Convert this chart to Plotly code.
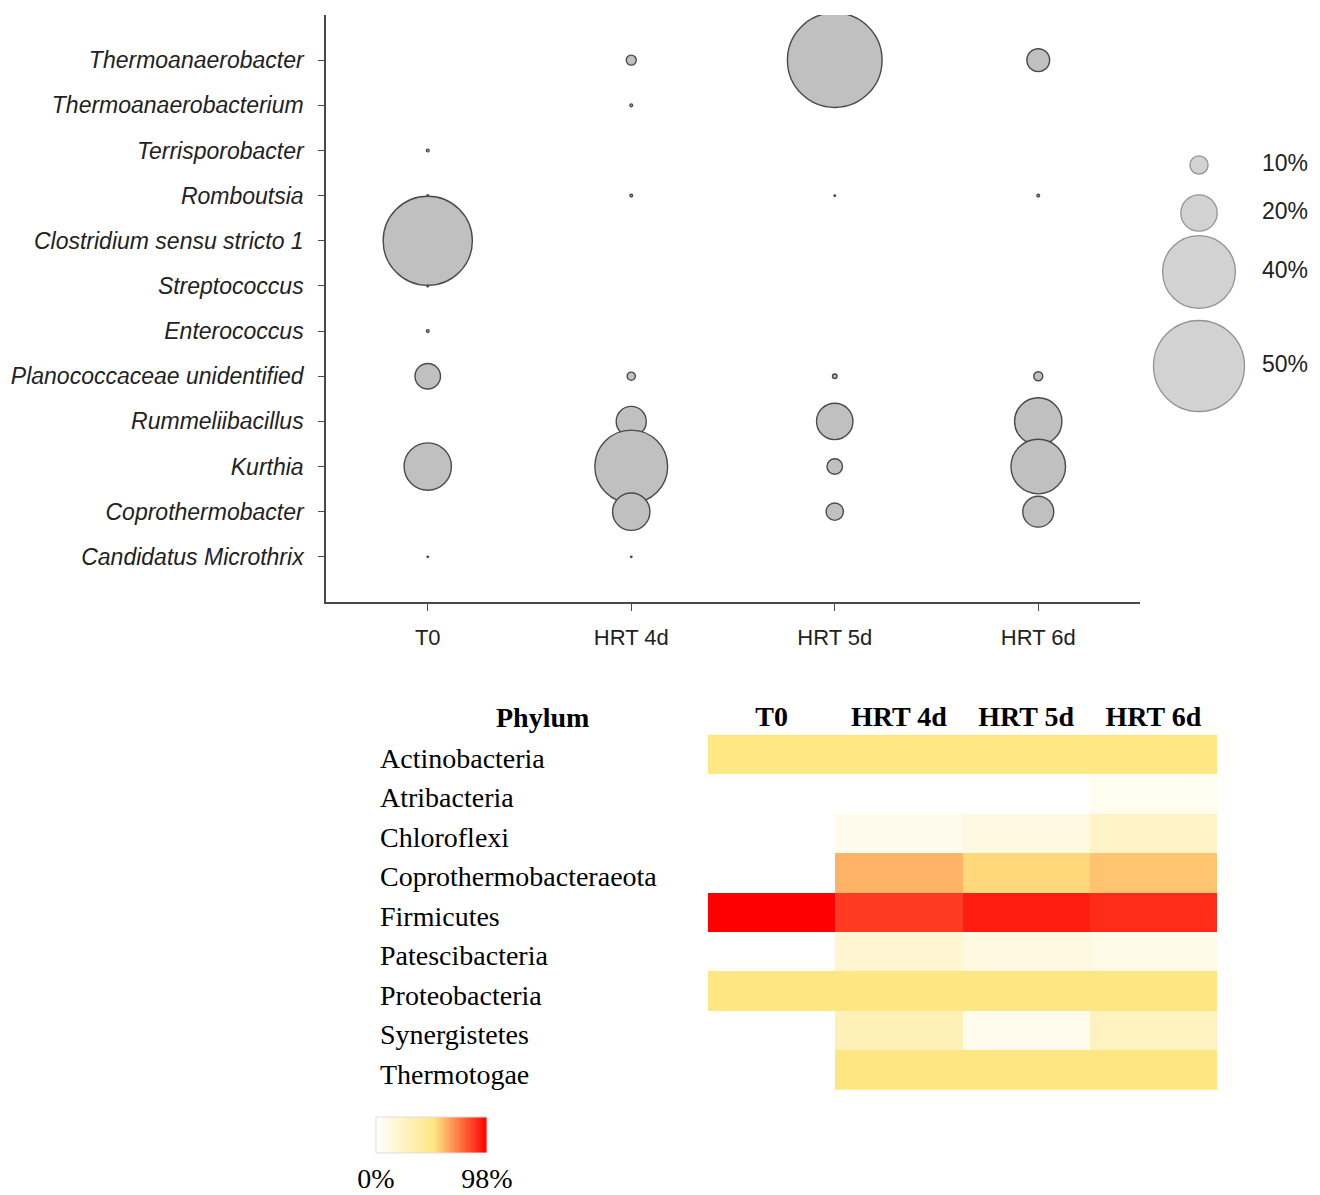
import plotly.graph_objects as go

# ---------------- Bubble chart data (relative abundance, %) ----------------
samples = ["T0", "HRT 4d", "HRT 5d", "HRT 6d"]
genera = [
    "Thermoanaerobacter",
    "Thermoanaerobacterium",
    "Terrisporobacter",
    "Romboutsia",
    "Clostridium sensu stricto 1",
    "Streptococcus",
    "Enterococcus",
    "Planococcaceae unidentified",
    "Rummeliibacillus",
    "Kurthia",
    "Coprothermobacter",
    "Candidatus Microthrix",
]
ab_T0 = [None, None, 1.5, 1.0, 49, 1.0, 1.5, 14, None, 26, None, 0.8]
ab_HRT4 = [5.5, 1.5, None, 1.5, None, None, None, 4.5, 16.5, 40, 20.5, 0.8]
ab_HRT5 = [52, None, None, 0.8, None, None, None, 2.5, 20, 8.5, 9.5, None]
ab_HRT6 = [12.5, None, None, 1.5, None, None, None, 5, 26, 30, 17, None]
legend_levels = [10, 20, 40, 50]
legend_labels = ["10%", "20%", "40%", "50%"]

# ---------------- Heatmap data (phylum relative abundance, %) ----------------
phyla = [
    "Actinobacteria",
    "Atribacteria",
    "Chloroflexi",
    "Coprothermobacteraeota",
    "Firmicutes",
    "Patescibacteria",
    "Proteobacteria",
    "Synergistetes",
    "Thermotogae",
]
ph_T0 = [50, None, None, None, 98, None, 51, None, None]
ph_HRT4 = [50, None, 8, 61.5, 86, 19, 51, 29, 51]
ph_HRT5 = [50, None, 12, 54, 92, 12, 51, 7, 51]
ph_HRT6 = [50, 6, 23, 58, 89, 10, 51, 26, 51]
cbar_ticks = [0, 98]
cbar_labels = ["0%", "98%"]

# ---------------- Layout constants ----------------
W, H = 1320, 1195
def px_x(p):
    return p / W
def px_y(p):
    return (H - p) / H

SIZE_PER_PCT = 1.82  # bubble diameter (px) per 1 %
FILL = "#C0C0C0"
EDGE = "#4A4A4A"

fig = go.Figure()

series = [ab_T0, ab_HRT4, ab_HRT5, ab_HRT6]
for s, vals in zip(samples, series):
    xs, ys, vs = [], [], []
    for g, v in zip(genera, vals):
        if v is not None:
            xs.append(s)
            ys.append(g)
            vs.append(v)
    fig.add_trace(go.Scatter(
        x=xs, y=ys, mode="markers",
        marker=dict(size=vs, sizemode="diameter", sizeref=1 / SIZE_PER_PCT,
                    color=FILL, opacity=1,
                    line=dict(color=EDGE, width=1.4)),
        xaxis="x", yaxis="y", showlegend=False, hoverinfo="skip",
    ))

# size legend (its own small axes, pixel-like units)
legend_pos_y = [165, 213, 272, 366]
legend_circle_x = 1199
legend_text_x = 1285
fig.add_trace(go.Scatter(
    x=[legend_circle_x] * len(legend_levels), y=legend_pos_y, mode="markers",
    marker=dict(size=legend_levels, sizemode="diameter", sizeref=1 / SIZE_PER_PCT,
                color=FILL, line=dict(color="#666666", width=1.3)),
    xaxis="x3", yaxis="y3", showlegend=False, hoverinfo="skip",
))
fig.add_trace(go.Scatter(
    x=[legend_text_x] * len(legend_levels), y=legend_pos_y, mode="text",
    text=legend_labels, textposition="middle center",
    textfont=dict(family="Liberation Sans", size=23, color="#222222"),
    xaxis="x3", yaxis="y3", showlegend=False, hoverinfo="skip",
))

# heatmap
z = [[a, b, c, d] for a, b, c, d in zip(ph_T0, ph_HRT4, ph_HRT5, ph_HRT6)]
fig.add_trace(go.Heatmap(
    z=z, x=samples, y=phyla, xaxis="x2", yaxis="y2",
    zmin=0, zmax=98,
    colorscale=[[0, "#FFFFFF"], [0.52, "#FEE783"], [1, "#FF0000"]],
    hoverinfo="skip", xgap=0, ygap=0,
    colorbar=dict(
        orientation="h", x=px_x(431.5), xanchor="center",
        y=px_y(1117), yanchor="top", ypad=0, xpad=0,
        thickness=36, len=111, lenmode="pixels",
        outlinewidth=1, outlinecolor="#DDDDDD",
        tickvals=cbar_ticks, ticktext=cbar_labels, ticks="",
        ticklabelposition="outside bottom",
        tickfont=dict(family="Liberation Serif", size=28, color="#000000"),
    ),
))

annotations = []
for p in phyla:
    annotations.append(dict(
        x=px_x(378), xref="paper", y=p, yref="y2", text=p, showarrow=False,
        xanchor="left", yanchor="middle", yshift=-4,
        font=dict(family="Liberation Serif", size=28, color="#000000"),
    ))
annotations.append(dict(
    x=px_x(542), xref="paper", y=px_y(717), yref="paper", text="<b>Phylum</b>",
    showarrow=False, xanchor="center", yanchor="middle",
    font=dict(family="Liberation Serif", size=28, color="#000000"),
))

fig.update_layout(
    width=W, height=H,
    margin=dict(l=0, r=0, t=0, b=0),
    paper_bgcolor="white", plot_bgcolor="white",
    annotations=annotations,
    xaxis=dict(
        domain=[px_x(326), px_x(1140)], anchor="y",
        type="category", categoryorder="array", categoryarray=samples,
        range=[-0.5, 3.5], showgrid=False, zeroline=False,
        showline=True, linecolor=EDGE, linewidth=1.5,
        ticks="outside", ticklen=7, tickcolor=EDGE, tickwidth=1.2,
        ticklabelstandoff=8,
        tickfont=dict(family="Liberation Sans", size=22, color="#222222"),
    ),
    yaxis=dict(
        domain=[px_y(602), px_y(15)], anchor="x",
        type="category", categoryorder="array", categoryarray=genera[::-1],
        range=[-1, 12], showgrid=False, zeroline=False,
        showline=True, linecolor=EDGE, linewidth=1.5,
        ticks="outside", ticklen=6, tickcolor=EDGE, tickwidth=1.2,
        ticklabelstandoff=10,
        tickfont=dict(family="Liberation Sans", size=23, color="#222222",
                      style="italic"),
    ),
    xaxis2=dict(
        domain=[px_x(708), px_x(1217)], anchor="y2", side="top",
        type="category", categoryorder="array", categoryarray=samples,
        tickvals=samples, ticktext=["<b>%s</b>" % s for s in samples],
        showgrid=False, zeroline=False, showline=False, ticks="",
        ticklabelstandoff=0,
        tickfont=dict(family="Liberation Serif", size=28, color="#000000"),
    ),
    yaxis2=dict(
        domain=[px_y(1090), px_y(733)], anchor="x2",
        type="category", autorange="reversed",
        showgrid=False, zeroline=False, showline=False,
        showticklabels=False, ticks="",
    ),
    xaxis3=dict(
        domain=[px_x(1150), 1.0], anchor="y3", range=[1150, 1320],
        visible=False,
    ),
    yaxis3=dict(
        domain=[px_y(420), px_y(140)], anchor="x3", range=[420, 140],
        visible=False,
    ),
)

fig.write_html("out.html",
               config={"displayModeBar": False},
               post_script="document.body.style.margin='0';")
